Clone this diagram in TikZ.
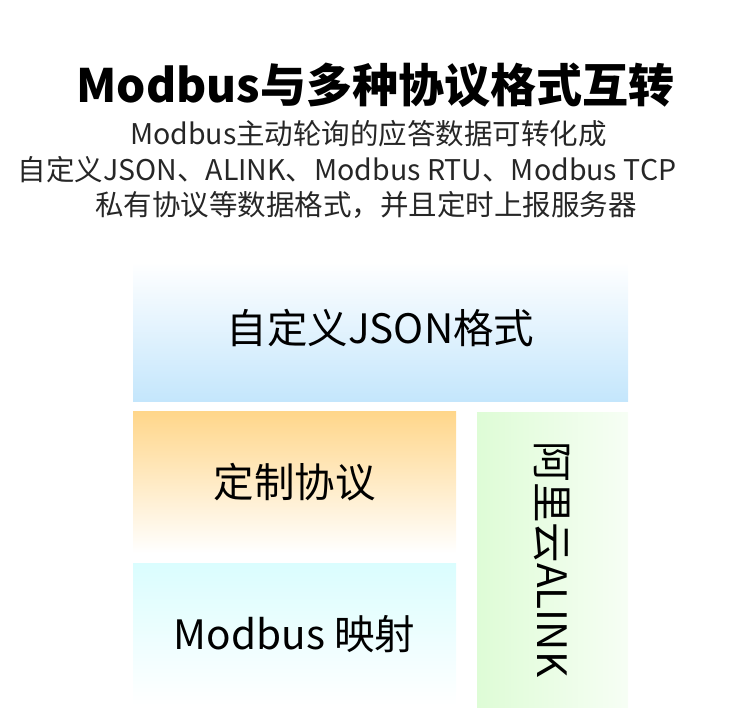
\documentclass[tikz,border=0pt]{standalone}
\usepackage{fontspec}
\setmainfont{Noto Sans CJK SC}
\usepackage{tikz}
\usetikzlibrary{positioning}
\definecolor{jsonblue}{RGB}{196,230,252}
\definecolor{customorange}{RGB}{255,214,138}
\definecolor{mapcyan}{RGB}{218,253,254}
\definecolor{alinkgreen}{RGB}{222,252,214}
\tikzstyle{heading}=[text=black, inner sep=0pt, font=\bfseries\fontsize{46}{46}\selectfont]
\tikzstyle{subline}=[text=black!85, inner sep=0pt, font=\fontsize{28.5}{28.5}\selectfont]
\tikzstyle{panel}=[rectangle, draw=none, text centered, text=black, inner sep=0pt, outer sep=0pt, font=\fontsize{40.5}{40.5}\selectfont]

\begin{document}
\begin{tikzpicture}[x=1pt, y=-1pt]
    \useasboundingbox (0,0) rectangle (750,725);

        \node(title)[heading] at (375.5,85) {Modbus与多种协议格式互转};
        \node(sub1)[subline] at (368.5,134) {Modbus主动轮询的应答数据可转化成};
        \node(sub2)[subline] at (347,170) {自定义JSON、ALINK、Modbus RTU、Modbus TCP};
        \node(sub3)[subline] at (366,205) {私有协议等数据格式，并且定时上报服务器};

        \node(json)[panel, minimum width=495, minimum height=139, top color=white, bottom color=jsonblue] at (380.5,331.5) {\raisebox{11pt}{自定义JSON格式}};
        \node(custom)[panel, minimum width=323, minimum height=142, top color=customorange, bottom color=white, below right=10pt and 0pt of json.south west] {定制协议};
        \node(mapping)[panel, minimum width=323, minimum height=142, top color=mapcyan, bottom color=white, below right=10pt and 0pt of custom.south west] {Modbus 映射};

        \node(alink)[panel, minimum width=151, minimum height=295, left color=alinkgreen, right color=alinkgreen!25!white, below right=1pt and 21pt of custom.north east] {};
        \node(alinkText)[panel, rotate=-90] at (alink.center) {阿里云ALINK};

    \end{tikzpicture}
\end{document}
